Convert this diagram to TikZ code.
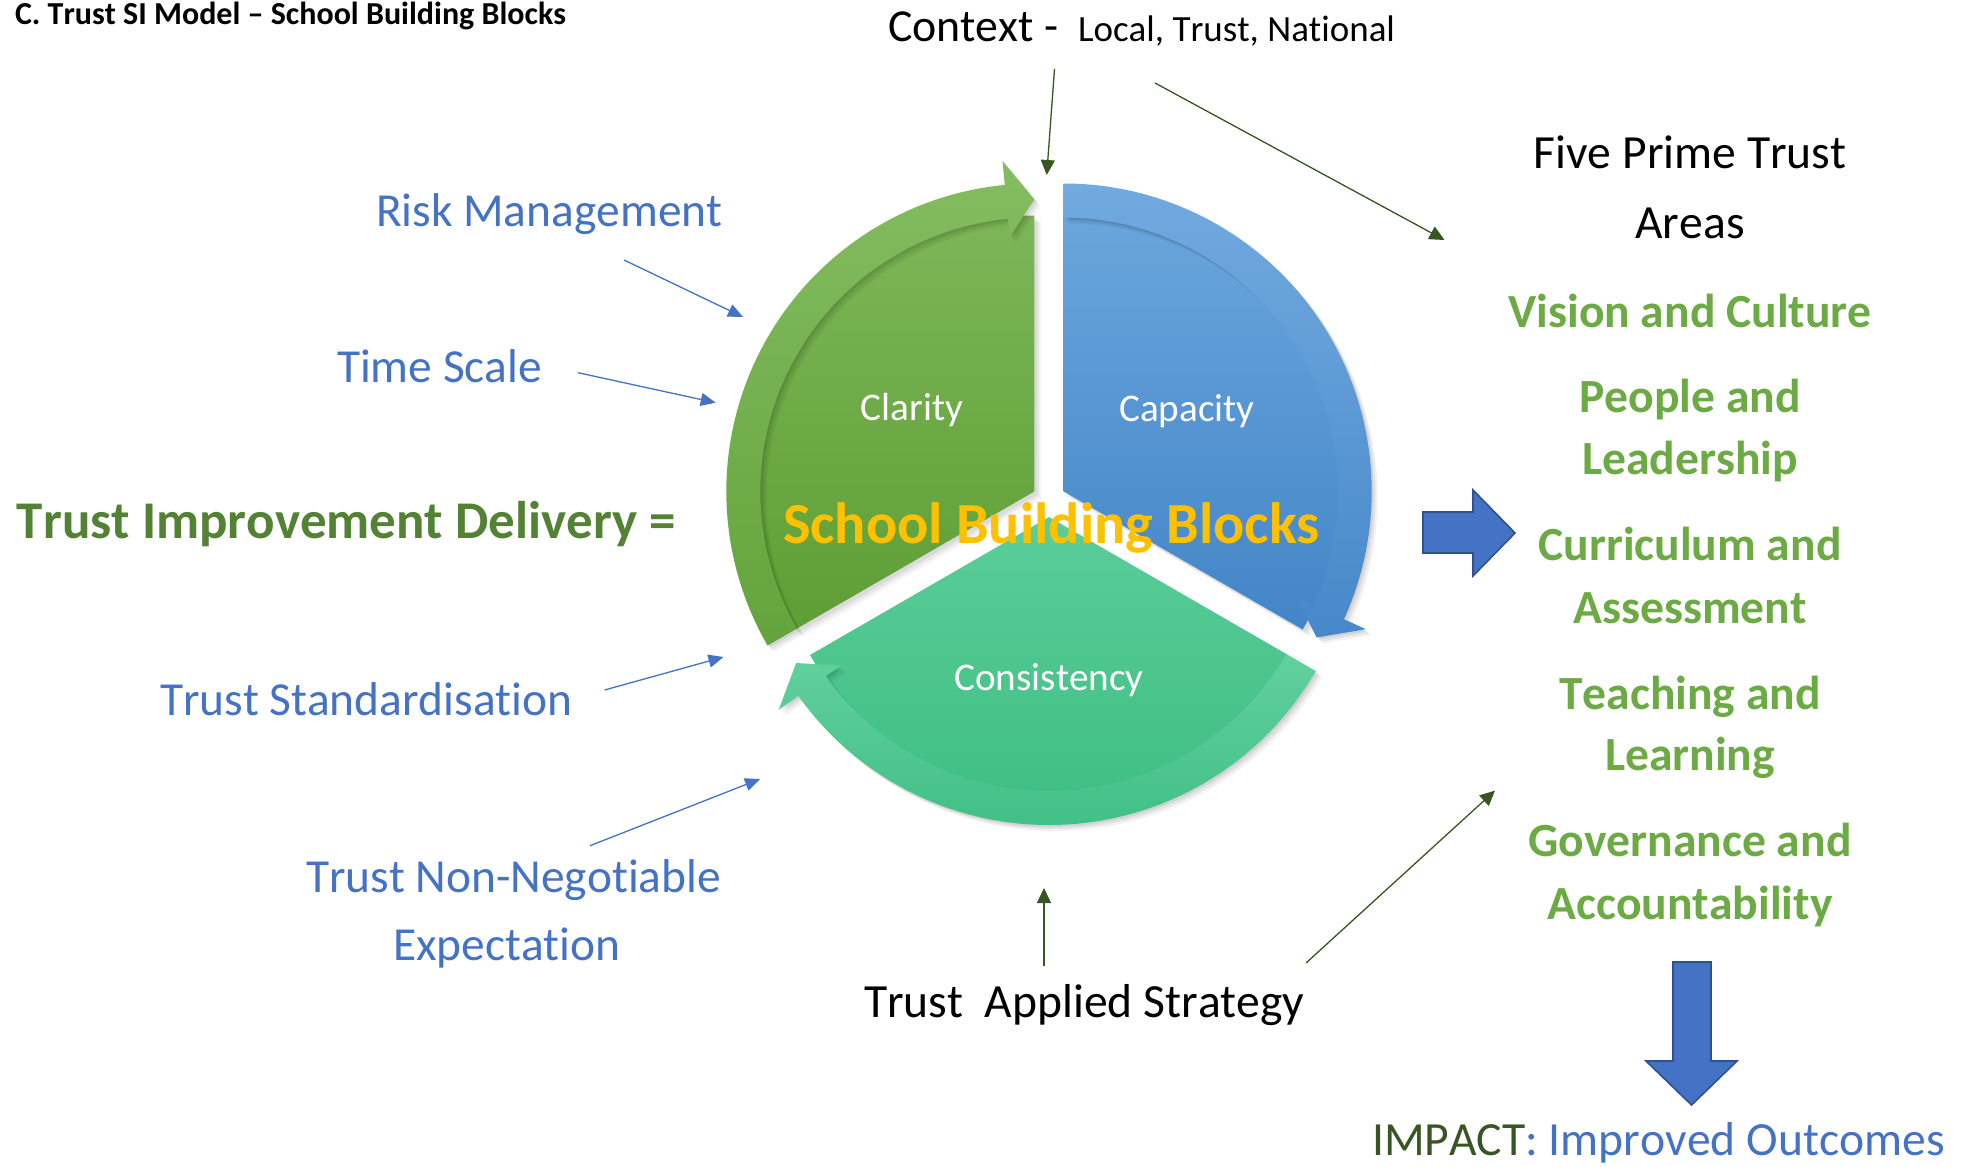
\documentclass[tikz,border=0pt]{standalone}
\usepackage{fontspec}
\setmainfont{Carlito}[Kerning=Off,Ligatures=NoCommon]
\usetikzlibrary{arrows.meta}
\definecolor{txtblue}{HTML}{4472C4}
\definecolor{dkgreen}{HTML}{375623}
\definecolor{midgreen}{HTML}{548235}
\definecolor{listgreen}{HTML}{6CAA44}
\definecolor{goldtxt}{HTML}{FFC000}
\definecolor{arrowfill}{HTML}{4472C4}
\definecolor{arrowedge}{HTML}{2F528F}
% segment colours
\definecolor{gPieTop}{HTML}{7DB657}\definecolor{gPieBot}{HTML}{5E9E35}
\definecolor{gBandTop}{HTML}{84BD61}\definecolor{gBandBot}{HTML}{64A33C}
\definecolor{bPieTop}{HTML}{6AA5DC}\definecolor{bPieBot}{HTML}{4385C8}
\definecolor{bBandTop}{HTML}{72AADF}\definecolor{bBandBot}{HTML}{4688CA}
\definecolor{tPieTop}{HTML}{5BCD99}\definecolor{tPieBot}{HTML}{3CBE81}
\definecolor{tBandTop}{HTML}{62D09E}\definecolor{tBandBot}{HTML}{42C086}

% #1 centre, #2 pie start, #3 pie end, #4 band start, #5 head base, #6 tip, #7 colour prefix
\newcommand\cyclesegment[7]{%
 \begin{scope}[shift={#1}]
  \foreach \s/\o in {7/0.04,5/0.05,3/0.06}{%
   \fill[black,opacity=\o,shift={(\s,-\s)}] (0,0) -- (#2:276) arc[start angle=#2,end angle=#3,radius=276] -- cycle;}
  \shade[top color=#7PieTop,bottom color=#7PieBot] (0,0) -- (#2:276) arc[start angle=#2,end angle=#3,radius=276] -- cycle;
  \foreach \s/\o in {6/0.05,4/0.06,2/0.07}{%
   \fill[black,opacity=\o,shift={(\s,-\s)}] (#4:274) -- (#4:308) arc[start angle=#4,end angle=#5,radius=308] -- (#5:332) -- (#6:292) -- (#5:256) -- (#5:274) arc[start angle=#5,end angle=#4,radius=274] -- cycle;}
  \shade[top color=#7BandTop,bottom color=#7BandBot] (#4:274) -- (#4:308) arc[start angle=#4,end angle=#5,radius=308] -- (#5:332) -- (#6:292) -- (#5:256) -- (#5:274) arc[start angle=#5,end angle=#4,radius=274] -- cycle;
 \end{scope}}

\begin{document}
\begin{tikzpicture}[x=0.5pt,y=0.5pt,
  lbl/.style={inner sep=0pt,outer sep=0pt,anchor=base},
  titletxt/.style={lbl,anchor=base west,text=black,font=\fontsize{16}{19}\selectfont\bfseries},
  ctxbig/.style={lbl,anchor=base west,text=black,font=\fontsize{22.9}{27}\selectfont},
  ctxsmall/.style={lbl,anchor=base west,text=black,font=\fontsize{18.5}{22}\selectfont},
  blacktxt/.style={lbl,text=black,font=\fontsize{23.8}{28}\selectfont},
  bluetxt/.style={lbl,anchor=base west,text=txtblue,font=\fontsize{23.7}{28}\selectfont},
  listtxt/.style={lbl,text=listgreen,font=\fontsize{23.8}{28}\selectfont\bfseries},
  deltxt/.style={lbl,anchor=base west,text=midgreen,font=\fontsize{26.5}{31}\selectfont\bfseries},
  wedgetxt/.style={lbl,text=white,font=\fontsize{19.6}{23}\selectfont},
  sbbtxt/.style={lbl,text=goldtxt,font=\fontsize{29.1}{34}\selectfont\bfseries},
  gline/.style={draw=dkgreen,line width=0.65pt,-{Triangle[length=7.5pt,width=7pt]}},
  bline/.style={draw=txtblue,line width=0.65pt,-{Triangle[length=7.5pt,width=6.5pt]}},
  blockarrow/.style={fill=arrowfill,draw=arrowedge,line width=0.8pt,line join=miter}
]
\useasboundingbox (0,0) rectangle (1973,-1166);
\fill[white] (0,0) rectangle (1973,-1166);

% ---- cycle ----
\cyclesegment{(1034.3,-491.5)}{90}{210}{210}{95.5}{90}{g}
\cyclesegment{(1063.7,-491.5)}{-30}{90}{90}{-24.5}{-30}{b}
\cyclesegment{(1049,-517)}{210}{330}{-30}{-144.5}{-150}{t}

\node[wedgetxt] (clarity) at (912,-420) {Clarity};
\node[wedgetxt] (capacity) at (1187,-421) {Capacity};
\node[wedgetxt] (consistency) at (1049,-690) {Consistency};
\node[sbbtxt] (sbb) at (1051.5,-543) {School Building Blocks};

% ---- texts ----
\node[titletxt] (title) at (15,-25) {C. Trust SI Model – School Building Blocks};
\node[ctxbig] (ctx) at (888,-42) {Context -};
\node[ctxsmall] (ctxlvl) at (1078,-42) {Local, Trust, National};

\node[blacktxt] (five) at (1690,-169) {Five Prime Trust};
\node[blacktxt] (areas) at (1690,-238) {Areas};
\node[listtxt] (vision) at (1690,-327) {Vision and Culture};
\node[listtxt] (people) at (1690,-412) {People and};
\node[listtxt] (leader) at (1690,-474) {Leadership};
\node[listtxt] (curric) at (1690,-560) {Curriculum and};
\node[listtxt] (assess) at (1690,-623) {Assessment};
\node[listtxt] (teach) at (1690,-709) {Teaching and};
\node[listtxt] (learn) at (1690,-770) {Learning};
\node[listtxt] (govern) at (1690,-856) {Governance and};
\node[listtxt] (account) at (1690,-919) {Accountability};
\node[lbl,anchor=base west,font=\fontsize{23.8}{28}\selectfont] (impact) at (1372,-1155)
  {\textcolor{dkgreen}{IMPACT}\textcolor{txtblue}{: Improved Outcomes}};

\node[bluetxt] (risk) at (376,-227) {Risk Management};
\node[bluetxt] (time) at (337,-382) {Time Scale};
\node[deltxt] (tid) at (17,-538) {Trust Improvement Delivery =};
\node[bluetxt] (std) at (160,-715) {Trust Standardisation};
\node[bluetxt] (nonneg) at (306,-892) {Trust Non-Negotiable};
\node[bluetxt] (expect) at (393,-960) {Expectation};
\node[blacktxt,anchor=base west] (tas) at (864,-1017) {Trust\ \ Applied Strategy};

% ---- block arrows ----
\draw[blockarrow] (1423,-512) -- (1473,-512) -- (1473,-490) -- (1515,-533)
  -- (1473,-576) -- (1473,-553) -- (1423,-553) -- cycle;
\draw[blockarrow] (1673,-962) -- (1711,-962) -- (1711,-1061) -- (1737,-1061)
  -- (1691.5,-1105) -- (1646,-1061) -- (1673,-1061) -- cycle;

% ---- connectors ----
\coordinate (ctxA1) at (1054.5,-69);  \coordinate (ctxA2) at (1046.7,-175);
\coordinate (ctxB1) at (1155,-83);    \coordinate (ctxB2) at (1444.5,-240);
\coordinate (riskA) at (624,-260);    \coordinate (riskB) at (743,-317);
\coordinate (timeA) at (578,-372.7);  \coordinate (timeB) at (715.7,-402.7);
\coordinate (stdA) at (604.6,-690);   \coordinate (stdB) at (723.5,-657);
\coordinate (nnA) at (590,-845.7);    \coordinate (nnB) at (760,-779);
\coordinate (tasA) at (1044,-966);    \coordinate (tasB) at (1044,-888);
\coordinate (tasC) at (1306,-963);    \coordinate (tasD) at (1495,-790.6);

\draw[gline] (ctxA1) -- (ctxA2);
\draw[gline] (ctxB1) -- (ctxB2);
\draw[gline] (tasA) -- (tasB);
\draw[gline] (tasC) -- (tasD);
\draw[bline] (riskA) -- (riskB);
\draw[bline] (timeA) -- (timeB);
\draw[bline] (stdA) -- (stdB);
\draw[bline] (nnA) -- (nnB);
\end{tikzpicture}
\end{document}
